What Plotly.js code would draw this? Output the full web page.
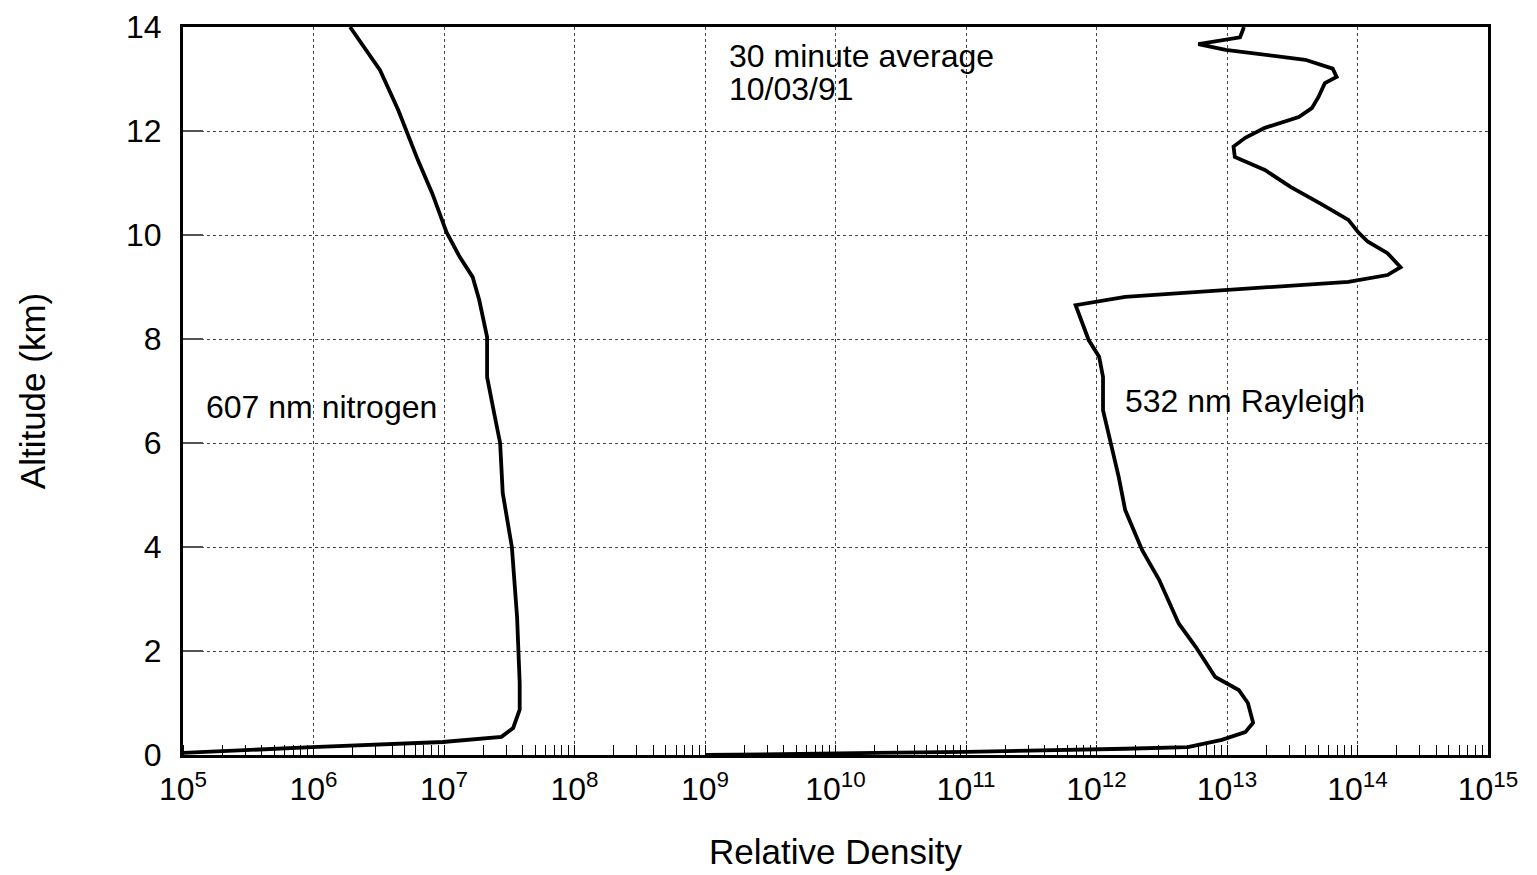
<!DOCTYPE html>
<html>
<head>
<meta charset="utf-8">
<script src="https://cdn.plot.ly/plotly-3.0.1.min.js"></script>
<style>html,body{margin:0;padding:0;background:#fff;}#chart{width:1537px;height:875px;}</style>
</head>
<body>
<div id="chart"></div>
<script>
// 607 nm nitrogen: log10(relative density) and altitude (km)
const n2LogDensity = [4.9, 5.0, 5.99, 6.99, 7.44, 7.53, 7.58, 7.58, 7.56, 7.52, 7.45, 7.43, 7.39, 7.33, 7.33, 7.27, 7.22, 7.12, 7.02, 6.91, 6.80, 6.71, 6.65, 6.51, 6.28];
const n2Altitude   = [0.0, 0.04, 0.15, 0.25, 0.35, 0.52, 0.87, 1.38, 2.65, 4.0, 5.04, 6.0, 6.5, 7.27, 8.04, 8.75, 9.19, 9.58, 10.05, 10.8, 11.44, 12.0, 12.4, 13.17, 14.0];

// 532 nm Rayleigh
const rayLogDensity = [9.0, 9.5, 10.3, 11.0, 11.8, 12.22, 12.70, 12.96, 13.14, 13.20, 13.16, 13.09, 12.91, 12.76, 12.63, 12.57, 12.48, 12.35, 12.22, 12.17, 12.11, 12.05, 12.05, 12.02, 11.94, 11.88, 11.84, 12.22, 13.01, 13.93, 14.23, 14.33, 14.23, 14.08, 14.01, 13.93, 13.72, 13.49, 13.29, 13.06, 13.05, 13.14, 13.29, 13.55, 13.65, 13.70, 13.75, 13.84, 13.81, 13.60, 12.99, 12.78, 13.10, 13.13];
const rayAltitude   = [0.0, 0.02, 0.04, 0.06, 0.09, 0.12, 0.15, 0.29, 0.44, 0.62, 1.0, 1.25, 1.5, 2.08, 2.53, 2.85, 3.37, 3.94, 4.71, 5.35, 6.0, 6.63, 7.27, 7.66, 7.98, 8.37, 8.65, 8.81, 8.94, 9.1, 9.23, 9.38, 9.65, 9.87, 10.04, 10.29, 10.6, 10.92, 11.25, 11.5, 11.7, 11.87, 12.06, 12.27, 12.44, 12.65, 12.92, 13.04, 13.2, 13.37, 13.56, 13.67, 13.8, 14.0];

const xTickExps = [5, 6, 7, 8, 9, 10, 11, 12, 13, 14, 15];
const yTicks = [0, 2, 4, 6, 8, 10, 12, 14];

const toVal = a => a.map(e => Math.pow(10, e));

const font = {family: 'Liberation Sans, Arial, sans-serif', color: '#000'};
const f = s => Object.assign({size: s}, font);

const traces = [
  {x: toVal(n2LogDensity), y: n2Altitude, mode: 'lines', line: {color: '#000', width: 3.8}, hoverinfo: 'skip'},
  {x: toVal(rayLogDensity), y: rayAltitude, mode: 'lines', line: {color: '#000', width: 3.8}, hoverinfo: 'skip'}
];

const layout = {
  width: 1537, height: 875,
  margin: {l: 183, r: 49, t: 27, b: 120},
  paper_bgcolor: '#fff', plot_bgcolor: '#fff',
  showlegend: false,
  font: f(32),
  xaxis: {
    type: 'log', range: [5, 15],
    tickvals: xTickExps.map(e => Math.pow(10, e)),
    ticktext: xTickExps.map(e => '10<sup>' + e + '</sup>'),
    tickfont: f(32), ticklabelstandoff: 4,
    ticks: '', showline: true, linecolor: '#000', linewidth: 3, mirror: true,
    showgrid: true, gridcolor: '#444', griddash: 'dot', gridwidth: 1,
    zeroline: false,
    minor: {ticks: 'inside', ticklen: 10, tickwidth: 1, tickcolor: '#000', showgrid: false, dtick: 'D1'},
    title: {text: 'Relative Density', font: f(35), standoff: 34}
  },
  yaxis: {
    range: [0, 14], tickvals: yTicks,
    tickfont: f(32), ticklabelstandoff: 12,
    ticks: 'inside', ticklen: 20, tickwidth: 2, tickcolor: '#555',
    showline: true, linecolor: '#000', linewidth: 3, mirror: true,
    showgrid: true, gridcolor: '#444', griddash: 'dot', gridwidth: 1,
    zeroline: false,
    title: {text: 'Altitude (km)', font: f(35), standoff: 70}
  },
  annotations: [
    {x: 5.16, y: 6.7, xref: 'x', yref: 'y', text: '607 nm nitrogen', showarrow: false, xanchor: 'left', yanchor: 'middle', font: f(32)},
    {x: 12.2, y: 6.8, xref: 'x', yref: 'y', text: '532 nm Rayleigh', showarrow: false, xanchor: 'left', yanchor: 'middle', font: f(32)},
    {x: 9.17, y: 13.44, xref: 'x', yref: 'y', text: '30 minute average', showarrow: false, xanchor: 'left', yanchor: 'middle', font: f(32)},
    {x: 9.17, y: 12.8, xref: 'x', yref: 'y', text: '10/03/91', showarrow: false, xanchor: 'left', yanchor: 'middle', font: f(32)}
  ]
};

Plotly.newPlot('chart', traces, layout, {staticPlot: true, displayModeBar: false});
</script>
</body>
</html>
